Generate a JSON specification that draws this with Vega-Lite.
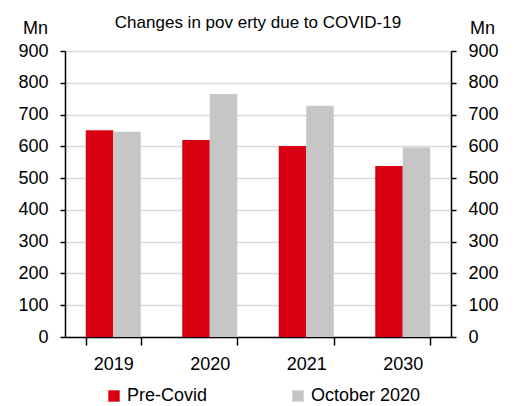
{
  "$schema": "https://vega.github.io/schema/vega-lite/v6.json",
  "width": 386,
  "height": 286,
  "autosize": {"type": "none"},
  "padding": {"left": 65, "top": 51, "right": 66, "bottom": 69},
  "background": "white",
  "title": {
    "text": "Changes in pov erty due to COVID-19",
    "font": "Liberation Sans",
    "fontSize": 17,
    "fontWeight": "normal",
    "color": "#000000",
    "anchor": "middle",
    "frame": "group",
    "offset": -13
  },
  "data": {
    "values": [
      {"year": "2019", "series": "Pre-Covid", "value": 651},
      {"year": "2019", "series": "October 2020", "value": 646},
      {"year": "2020", "series": "Pre-Covid", "value": 620},
      {"year": "2020", "series": "October 2020", "value": 765},
      {"year": "2021", "series": "Pre-Covid", "value": 601},
      {"year": "2021", "series": "October 2020", "value": 728},
      {"year": "2030", "series": "Pre-Covid", "value": 538},
      {"year": "2030", "series": "October 2020", "value": 596}
    ]
  },
  "config": {
    "view": {"stroke": null},
    "font": "Liberation Sans",
    "axis": {
      "labelFont": "Liberation Sans",
      "labelFontSize": 18,
      "labelColor": "#000000",
      "domainColor": "#000000",
      "domainWidth": 1.5,
      "tickColor": "#000000",
      "tickWidth": 1.5
    }
  },
  "layer": [
    {
      "mark": {"type": "bar"},
      "encoding": {
        "x": {
          "field": "year",
          "type": "nominal",
          "sort": ["2019", "2020", "2021", "2030"],
          "scale": {"paddingInner": 0.43, "paddingOuter": 0.215},
          "axis": {
            "title": null,
            "labelAngle": 0,
            "tickBand": "extent",
            "tickSize": 8,
            "labelPadding": 10,
            "grid": false
          }
        },
        "xOffset": {
          "field": "series",
          "type": "nominal",
          "sort": ["Pre-Covid", "October 2020"],
          "scale": {"paddingInner": 0, "paddingOuter": 0}
        },
        "y": {
          "field": "value",
          "type": "quantitative",
          "scale": {"domain": [0, 900], "nice": false},
          "axis": {
            "orient": "left",
            "values": [0, 100, 200, 300, 400, 500, 600, 700, 800, 900],
            "title": "Mn",
            "titleAngle": 0,
            "titleX": -30,
            "titleY": -23,
            "titleAlign": "center",
            "titleBaseline": "middle",
            "titleFont": "Liberation Sans",
            "titleFontSize": 18,
            "titleFontWeight": "normal",
            "titleColor": "#000000",
            "tickSize": 5,
            "labelPadding": 12,
            "grid": true,
            "gridColor": "#d9d9d9",
            "gridWidth": 1.5
          }
        },
        "color": {
          "field": "series",
          "type": "nominal",
          "sort": ["Pre-Covid", "October 2020"],
          "scale": {"domain": ["Pre-Covid", "October 2020"], "range": ["#d90012", "#c6c6c6"]},
          "legend": {
            "title": null,
            "orient": "none",
            "legendX": 40,
            "legendY": 336,
            "direction": "horizontal",
            "padding": 0,
            "symbolType": "square",
            "symbolSize": 130,
            "symbolStrokeWidth": 0,
            "labelFont": "Liberation Sans",
            "labelFontSize": 18,
            "labelColor": "#000000",
            "labelOffset": 4,
            "columnPadding": 81
          }
        }
      }
    },
    {
      "mark": {"type": "rule", "opacity": 0},
      "encoding": {
        "y": {
          "field": "value",
          "type": "quantitative",
          "aggregate": "max",
          "axis": {
            "orient": "right",
            "values": [0, 100, 200, 300, 400, 500, 600, 700, 800, 900],
            "title": "Mn",
            "titleAngle": 0,
            "titleX": 31,
            "titleY": -23,
            "titleAlign": "center",
            "titleBaseline": "middle",
            "titleFont": "Liberation Sans",
            "titleFontSize": 18,
            "titleFontWeight": "normal",
            "titleColor": "#000000",
            "tickSize": 5,
            "labelPadding": 12,
            "grid": false
          }
        }
      }
    }
  ]
}
